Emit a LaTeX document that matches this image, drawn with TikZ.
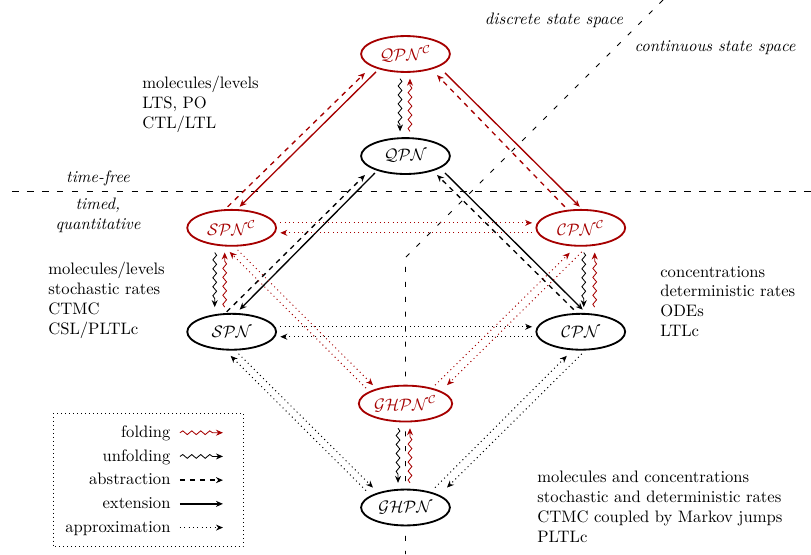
\documentclass[tikz,border=0pt]{standalone}
\usepackage{amsmath}
\usepackage{amssymb}
\usepackage{tikz}
\usetikzlibrary{positioning,arrows.meta,shapes,decorations.pathmorphing}

\colorlet{cred}{red!65!black}

\begin{document}
\begin{tikzpicture}[
        on grid,
        pn/.style = {ellipse, draw, line width=1.1pt, fill=white, minimum width=1.88cm, minimum height=0.76cm, inner sep=1pt},
        pnc/.style = {pn, draw=cred, text=cred},
        arr/.style = {-{Stealth[length=4.2pt, width=3.6pt]}},
        fold/.style = {arr, cred, line width=0.5pt, decorate, decoration={snake, amplitude=.4mm, segment length=1.9mm, post length=1.4mm}},
        unfold/.style = {fold, black},
        abst/.style = {arr, thick, dashed},
        ext/.style = {arr, thick},
        approx/.style = {arr, semithick, dotted},
        sepline/.style = {semithick, dash pattern=on 4pt off 5pt},
        info/.style = {align=left, anchor=west, inner sep=0pt},
        zone/.style = {font=\itshape, align=center}
    ]

    \useasboundingbox (-8.584,1.143) rectangle (8.584,-10.585);

    % time-free / timed and discrete / continuous
    \draw [sepline] (-8.33,-2.921) -- (8.584,-2.921);
    \draw [semithick, loosely dashed] (5.451,1.143) -- (0,-4.308) -- (0,-10.585);

    \node [zone] (tfree) at (-6.51,-2.625) {time-free};
    \node [zone] (timed) at (-6.51,-3.408) {timed,\\quantitative};
    \node [zone] (discr) at (3.144,0.72) {discrete state space};
    \node [zone] (contin) at (6.552,0.127) {continuous state space};

    % the net classes
    \node [pnc] (qpnc) {$\mathcal{QPN}^{\mathcal{C}}$};
    \node [pn, below=2.16cm of qpnc] (qpn) {$\mathcal{QPN}$};
    \node [pnc, below left=1.52cm and 3.68cm of qpn] (spnc) {$\mathcal{SPN}^{\mathcal{C}}$};
    \node [pnc, below right=1.52cm and 3.71cm of qpn] (cpnc) {$\mathcal{CPN}^{\mathcal{C}}$};
    \node [pn, below=2.2cm of spnc] (spn) {$\mathcal{SPN}$};
    \node [pn, below=2.2cm of cpnc] (cpn) {$\mathcal{CPN}$};
    \node [pnc, below=5.24cm of qpn] (ghpnc) {$\mathcal{GHPN}^{\mathcal{C}}$};
    \node [pn, below=2.2cm of ghpnc] (ghpn) {$\mathcal{GHPN}$};

    \node [info] (qinfo) at (-5.578,-1.069) {molecules/levels\\LTS, PO\\CTL/LTL};
    \node [info] (sinfo) at (-7.568,-5.218) {molecules/levels\\stochastic rates\\CTMC\\CSL/PLTLc};
    \node [info] (cinfo) at (5.388,-5.24) {concentrations\\deterministic rates\\ODEs\\LTLc};
    \node [info] (ghinfo) at (2.784,-9.58) {molecules and concentrations\\stochastic and deterministic rates\\CTMC coupled by Markov jumps\\PLTLc};

    % folding / unfolding
    \draw [unfold] ([xshift=-3.3pt,yshift=-3.5pt]qpnc.south) -- ([xshift=-3.3pt,yshift=3.5pt]qpn.north);
    \draw [fold] ([xshift=2.7pt,yshift=3.5pt]qpn.north) -- ([xshift=2.7pt,yshift=-3.5pt]qpnc.south);
    \draw [unfold] ([xshift=-10.2pt,yshift=-3.5pt]spnc.south) -- ([xshift=-10.2pt,yshift=3.5pt]spn.north);
    \draw [fold] ([xshift=-4.2pt,yshift=3.5pt]spn.north) -- ([xshift=-4.2pt,yshift=-3.5pt]spnc.south);
    \draw [unfold] ([xshift=1.8pt,yshift=-3.5pt]cpnc.south) -- ([xshift=1.8pt,yshift=3.5pt]cpn.north);
    \draw [fold] ([xshift=8.4pt,yshift=3.5pt]cpn.north) -- ([xshift=8.4pt,yshift=-3.5pt]cpnc.south);
    \draw [unfold] ([xshift=-4.5pt,yshift=-3.5pt]ghpnc.south) -- ([xshift=-4.5pt,yshift=3.5pt]ghpn.north);
    \draw [fold] ([xshift=2.7pt,yshift=3.5pt]ghpn.north) -- ([xshift=2.7pt,yshift=-3.5pt]ghpnc.south);

    % extension / abstraction
    \draw [ext, cred] ([xshift=-17.8pt,yshift=-10.8pt]qpnc.center) -- ([xshift=4.8pt,yshift=12.7pt]spnc.center);
    \draw [abst, cred] ([xshift=-2.4pt,yshift=12.7pt]spnc.center) -- ([xshift=-24.4pt,yshift=-11.4pt]qpnc.center);
    \draw [ext, cred] ([xshift=23.8pt,yshift=-11.4pt]qpnc.center) -- ([xshift=-0.6pt,yshift=12.7pt]cpnc.center);
    \draw [abst, cred] ([xshift=-9.6pt,yshift=12.7pt]cpnc.center) -- ([xshift=19pt,yshift=-12.7pt]qpnc.center);
    \draw [ext] ([xshift=-18.4pt,yshift=-10.2pt]qpn.center) -- ([xshift=4.8pt,yshift=13.3pt]spn.center);
    \draw [abst] ([xshift=-3pt,yshift=12pt]spn.center) -- ([xshift=-24.4pt,yshift=-11.4pt]qpn.center);
    \draw [ext] ([xshift=23.8pt,yshift=-10.2pt]qpn.center) -- ([xshift=1.2pt,yshift=13.3pt]cpn.center);
    \draw [abst] ([xshift=-4.2pt,yshift=13.3pt]cpn.center) -- ([xshift=19pt,yshift=-11.4pt]qpn.center);

    % approximation
    \draw [approx, cred, shorten <=2pt, shorten >=2pt] ([yshift=3pt]spnc.east) -- ([yshift=3pt]cpnc.west);
    \draw [approx, cred, shorten <=2pt, shorten >=2pt] ([yshift=-3pt]cpnc.west) -- ([yshift=-3pt]spnc.east);
    \draw [approx, shorten <=2pt, shorten >=2pt] ([yshift=3pt]spn.east) -- ([yshift=3pt]cpn.west);
    \draw [approx, shorten <=2pt, shorten >=2pt] ([yshift=-3pt]cpn.west) -- ([yshift=-3pt]spn.east);

    \draw [approx, cred] ([xshift=3.6pt,yshift=-13.3pt]spnc.center) -- ([xshift=-19.6pt,yshift=11.1pt]ghpnc.center);
    \draw [approx, cred] ([xshift=-23.8pt,yshift=9.3pt]ghpnc.center) -- ([xshift=-1.2pt,yshift=-14.5pt]spnc.center);
    \draw [approx, cred] ([xshift=0.6pt,yshift=-14.5pt]cpnc.center) -- ([xshift=25pt,yshift=11.1pt]ghpnc.center);
    \draw [approx, cred] ([xshift=17.8pt,yshift=11.1pt]ghpnc.center) -- ([xshift=-6.6pt,yshift=-15pt]cpnc.center);
    \draw [approx] ([xshift=4.2pt,yshift=-13.3pt]spn.center) -- ([xshift=-19.6pt,yshift=12pt]ghpn.center);
    \draw [approx] ([xshift=-23.8pt,yshift=10.2pt]ghpn.center) -- ([xshift=-0.6pt,yshift=-14.5pt]spn.center);
    \draw [approx] ([xshift=0.6pt,yshift=-13.3pt]cpn.center) -- ([xshift=25pt,yshift=12pt]ghpn.center);
    \draw [approx] ([xshift=17.8pt,yshift=12pt]ghpn.center) -- ([xshift=-8.4pt,yshift=-14.5pt]cpn.center);

    % legend
    \draw [dotted] (-7.462,-7.6) rectangle (-3.44,-10.416);
    \foreach \name/\sty [count=\i] in {folding/fold, unfolding/unfold, abstraction/abst, extension/ext, approximation/approx} {
        \node [anchor=east, inner xsep=5.5pt, text height=1.6ex, text depth=.25ex] (leg\i) at (-4.774,-7.515-0.502*\i) {\name};
        \coordinate (legtip\i) at ([xshift=0.91cm]leg\i.east);
        \draw [\sty] (leg\i.east) -- (legtip\i);
    }

\end{tikzpicture}
\end{document}
